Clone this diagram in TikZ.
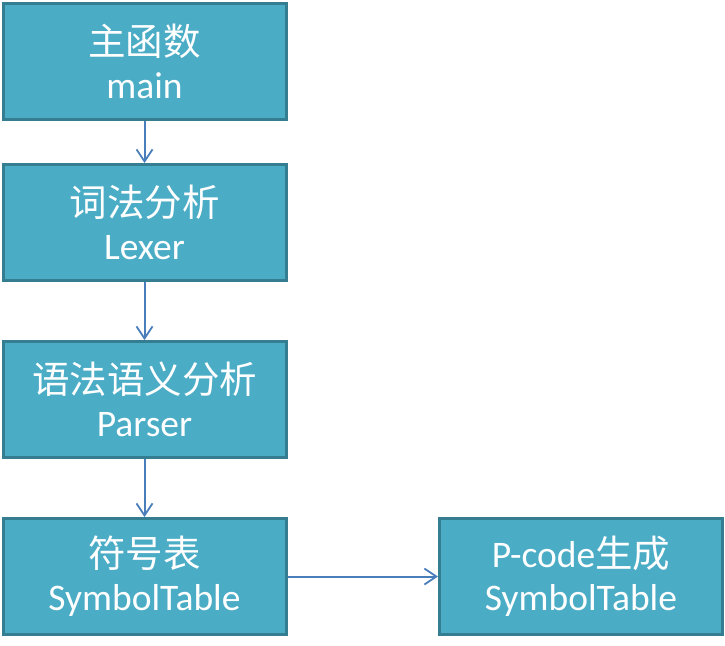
\documentclass[tikz,border=0pt]{standalone}
\usepackage{fontspec}
\setmainfont{Carlito}
\newfontfamily\cjk{Noto Sans CJK SC}
\usetikzlibrary{arrows.meta}
\definecolor{boxfill}{HTML}{4BACC6}
\definecolor{boxline}{HTML}{357D91}
\definecolor{arrowc}{HTML}{4A7EBB}
\begin{document}
\begin{tikzpicture}[x=1pt,y=-1pt,
  blk/.style={draw=boxline, line width=3pt, fill=boxfill, minimum width=283pt, minimum height=116pt,
    inner sep=0pt, align=center, text=white, font=\fontsize{37.5}{43}\selectfont},
  conn/.style={draw=arrowc, line width=2pt, -{Straight Barb[length=12pt,width=16pt,line width=1.8pt]}}]
\useasboundingbox (0,0) rectangle (725,645);
\node[blk] (a) at (144.5,61.5) {{\cjk 主函数}\\main};
\node[blk] (b) at (144.5,222.5) {{\cjk 词法分析}\\Lexer};
\node[blk] (c) at (144.5,399.5) {{\cjk 语法语义分析}\\Parser};
\node[blk] (d) at (144.5,576.5) {{\cjk 符号表}\\SymbolTable};
\node[blk] (e) at (581,576.5) {P-code{\cjk 生成}\\SymbolTable};
\draw[conn] (a) -- (b);
\draw[conn] (b) -- (c);
\draw[conn] (c) -- (d);
\draw[conn] (d) -- (e);
\end{tikzpicture}
\end{document}
